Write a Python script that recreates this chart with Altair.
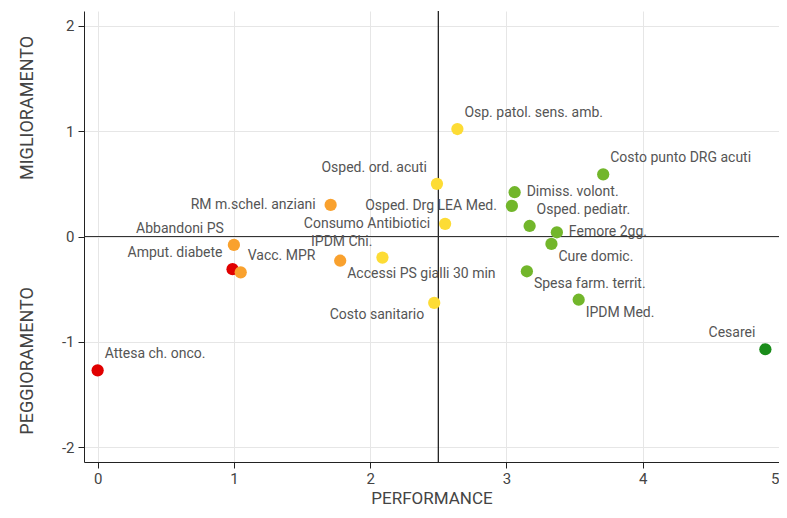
import altair as alt
import pandas as pd

labels = [
    "Osp. patol. sens. amb.", "Costo punto DRG acuti", "Osped.  ord. acuti",
    "Dimiss. volont.", "Osped. Drg LEA Med.", "Osped. pediatr.",
    "Consumo Antibiotici", "Femore 2gg.", "Cure domic.", "Spesa farm. territ.",
    "IPDM Med.", "Cesarei", "Costo sanitario", "Accessi PS gialli 30 min",
    "IPDM Chi.", "Abbandoni PS", "Amput. diabete", "Vacc. MPR",
    "Attesa ch. onco.", "RM m.schel. anziani",
]
performance = [2.64, 3.71, 2.49, 3.06, 3.04, 3.17, 2.55, 3.37, 3.33, 3.15,
               3.53, 4.90, 2.47, 1.78, 2.09, 1.00, 0.99, 1.05, 0.00, 1.71]
trend = [1.02, 0.59, 0.50, 0.42, 0.29, 0.10, 0.12, 0.04, -0.07, -0.33,
         -0.60, -1.07, -0.63, -0.23, -0.20, -0.08, -0.31, -0.34, -1.27, 0.30]
fascia = ["3", "4", "3", "4", "4", "4", "3", "4", "4", "4",
          "4", "5", "3", "2", "3", "2", "1", "2", "1", "2"]
posizione = ["AR", "AR", "AL", "R", "L", "AR", "L", "R", "BR", "BR",
             "BR", "AL", "BL", "BR", "AL", "AL", "AL", "AR", "AR", "L"]

fasce = ["1", "2", "3", "4", "5"]
colori = ["#E00000", "#F9A12E", "#FDDC35", "#72B62B", "#1A8C1A"]

placements = {
    "AR": (7, -16, "left"),
    "AL": (-10, -16, "right"),
    "R": (12, 0, "left"),
    "L": (-15, 0, "right"),
    "BR": (7, 13, "left"),
    "BL": (-10, 12, "right"),
}

df = pd.DataFrame({"label": labels, "x": performance, "y": trend,
                   "fascia": fascia, "pos": posizione})

FONT = "Roboto"
xs = alt.Scale(domain=[-0.1, 5.0], nice=False, zero=False)
ys = alt.Scale(domain=[-2.14, 2.14], nice=False, zero=False)

base = alt.Chart(df)

label_expr = "datum.value < 0 ? '-' + abs(datum.value) : '' + datum.value"

xaxis = alt.Axis(values=[0, 1, 2, 3, 4, 5], labelExpr=label_expr, title="PERFORMANCE", grid=True,
                 gridColor="#e6e6e6", domainColor="#222", tickColor="#222",
                 labelFont=FONT, labelFontSize=15, labelColor="#444",
                 labelPadding=3, tickSize=6, titleFont=FONT, titleFontSize=17,
                 titleFontWeight="normal", titleColor="#444", titlePadding=4)
yaxis = alt.Axis(values=[-2, -1, 0, 1, 2], labelExpr=label_expr, title=None, grid=True,
                 gridColor="#e6e6e6", domainColor="#222", tickColor="#222",
                 labelFont=FONT, labelFontSize=15, labelColor="#444",
                 labelPadding=4, tickSize=6)

points = base.mark_circle(size=150, opacity=1).encode(
    x=alt.X("x:Q", scale=xs, axis=xaxis),
    y=alt.Y("y:Q", scale=ys, axis=yaxis),
    color=alt.Color("fascia:N", scale=alt.Scale(domain=fasce, range=colori), legend=None),
)

vline = alt.Chart(pd.DataFrame({"v": [2.5]})).mark_rule(color="#111", strokeWidth=1.2).encode(
    x=alt.X("v:Q", scale=xs))
hline = alt.Chart(pd.DataFrame({"h": [0.0]})).mark_rule(color="#333", strokeWidth=1.2).encode(
    y=alt.Y("h:Q", scale=ys))

text_layers = []
for key, (dx, dy, align) in placements.items():
    text_layers.append(
        base.transform_filter(alt.datum.pos == key).mark_text(
            dx=dx, dy=dy, align=align, baseline="middle", font=FONT,
            fontSize=14, color="#555"
        ).encode(x=alt.X("x:Q", scale=xs), y=alt.Y("y:Q", scale=ys), text="label:N")
    )

titles = pd.DataFrame({"t": ["MIGLIORAMENTO", "PEGGIORAMENTO"], "yy": [1.22, -1.18]})
ytitles = alt.Chart(titles).mark_text(
    angle=270, font=FONT, fontSize=18, color="#444", baseline="middle", align="center"
).encode(x=alt.value(-56), y=alt.Y("yy:Q", scale=ys), text="t:N")

chart = alt.layer(vline, hline, points, *text_layers, ytitles).properties(
    width=695, height=451,
    autosize=alt.AutoSizeParams(type="none"),
    padding={"left": 76, "top": 3, "right": 0, "bottom": 48},
).configure_view(stroke=None)

chart.save("out.html", embed_options={"renderer": "svg", "actions": False})
